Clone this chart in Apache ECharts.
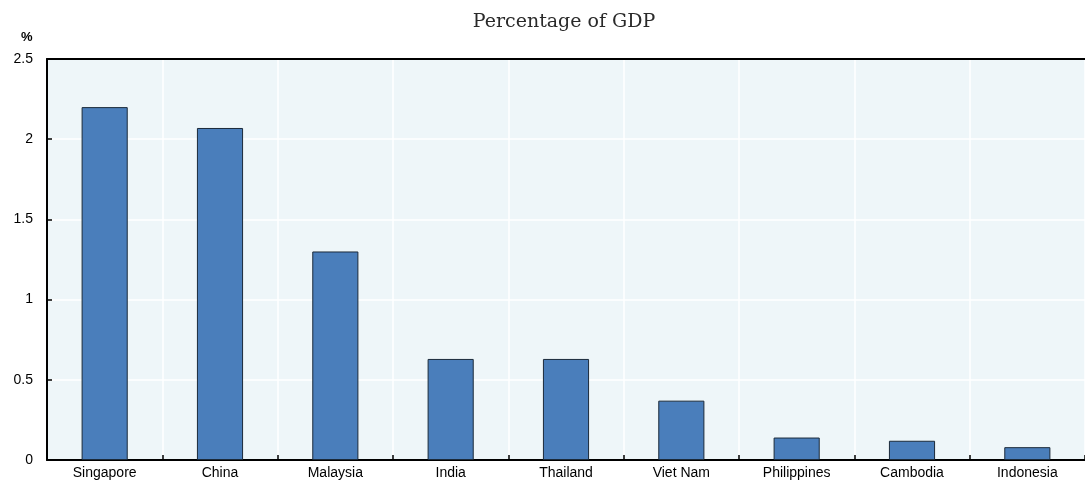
<!DOCTYPE html>
<html>
<head>
<meta charset="utf-8">
<script src="https://cdn.jsdelivr.net/npm/echarts@6/dist/echarts.min.js"></script>
<style>
  html, body { margin: 0; padding: 0; background: #ffffff; }
  #chart { width: 1085px; height: 488px; }
</style>
</head>
<body>
<div id="chart"></div>
<script>
// R&D spending by economy, percentage of GDP
const countries = ['Singapore', 'China', 'Malaysia', 'India', 'Thailand', 'Viet Nam', 'Philippines', 'Cambodia', 'Indonesia'];
const shareOfGdp = [2.20, 2.07, 1.30, 0.63, 0.63, 0.37, 0.14, 0.12, 0.08];
const yTicks = [0, 0.5, 1, 1.5, 2, 2.5];

const chart = echarts.init(document.getElementById('chart'), null, { renderer: 'canvas' });

chart.setOption({
  animation: false,
  graphic: [{
    type: 'text',
    x: 564,
    y: 22,
    style: {
      text: 'Percentage of GDP',
      font: '19px "DejaVu Serif", serif',
      fill: '#2a2a2a',
      textAlign: 'center',
      textVerticalAlign: 'middle'
    }
  }, {
    type: 'text',
    x: 21,
    y: 37,
    style: {
      text: '%',
      font: 'bold 13px "Liberation Sans", Arial, sans-serif',
      fill: '#000',
      textVerticalAlign: 'middle'
    }
  }],
  grid: {
    left: 47, right: -2, top: 59, bottom: 28,
    show: true,
    backgroundColor: '#EEF6F9',
    borderWidth: 0
  },
  xAxis: [{
    type: 'category',
    data: countries,
    axisLine: { lineStyle: { color: '#000000', width: 2 } },
    axisTick: { show: true, inside: true, length: 5, lineStyle: { color: '#000', width: 1.5 } },
    axisLabel: { color: '#000', fontFamily: 'Liberation Sans', fontSize: 14, margin: 6 },
    splitLine: { show: true, lineStyle: { color: '#ffffff', width: 1.5 } }
  }, {
    // top frame line of the plot area
    type: 'category',
    position: 'top',
    data: countries,
    axisLine: { show: true, onZero: false, lineStyle: { color: '#000000', width: 2 } },
    axisTick: { show: false },
    axisLabel: { show: false },
    splitLine: { show: false }
  }],
  yAxis: {
    type: 'value',
    min: 0, max: 2.5, interval: 0.5,
    axisLine: { show: true, lineStyle: { color: '#000000', width: 2 } },
    axisTick: { show: true, inside: true, length: 5, lineStyle: { color: '#000', width: 1.5 } },
    axisLabel: {
      color: '#000', fontFamily: 'Liberation Sans', fontSize: 14, margin: 14,
      formatter: v => { const t = yTicks.find(x => Math.abs(x - v) < 1e-9); return t === undefined ? '' : String(t); }
    },
    splitLine: { show: true, lineStyle: { color: '#ffffff', width: 1.5 } }
  },
  series: [{
    type: 'bar',
    data: shareOfGdp,
    barWidth: '40%',
    itemStyle: { color: '#4A7EBB', borderColor: '#1B2A3A', borderWidth: 1 }
  }]
});
</script>
</body>
</html>
